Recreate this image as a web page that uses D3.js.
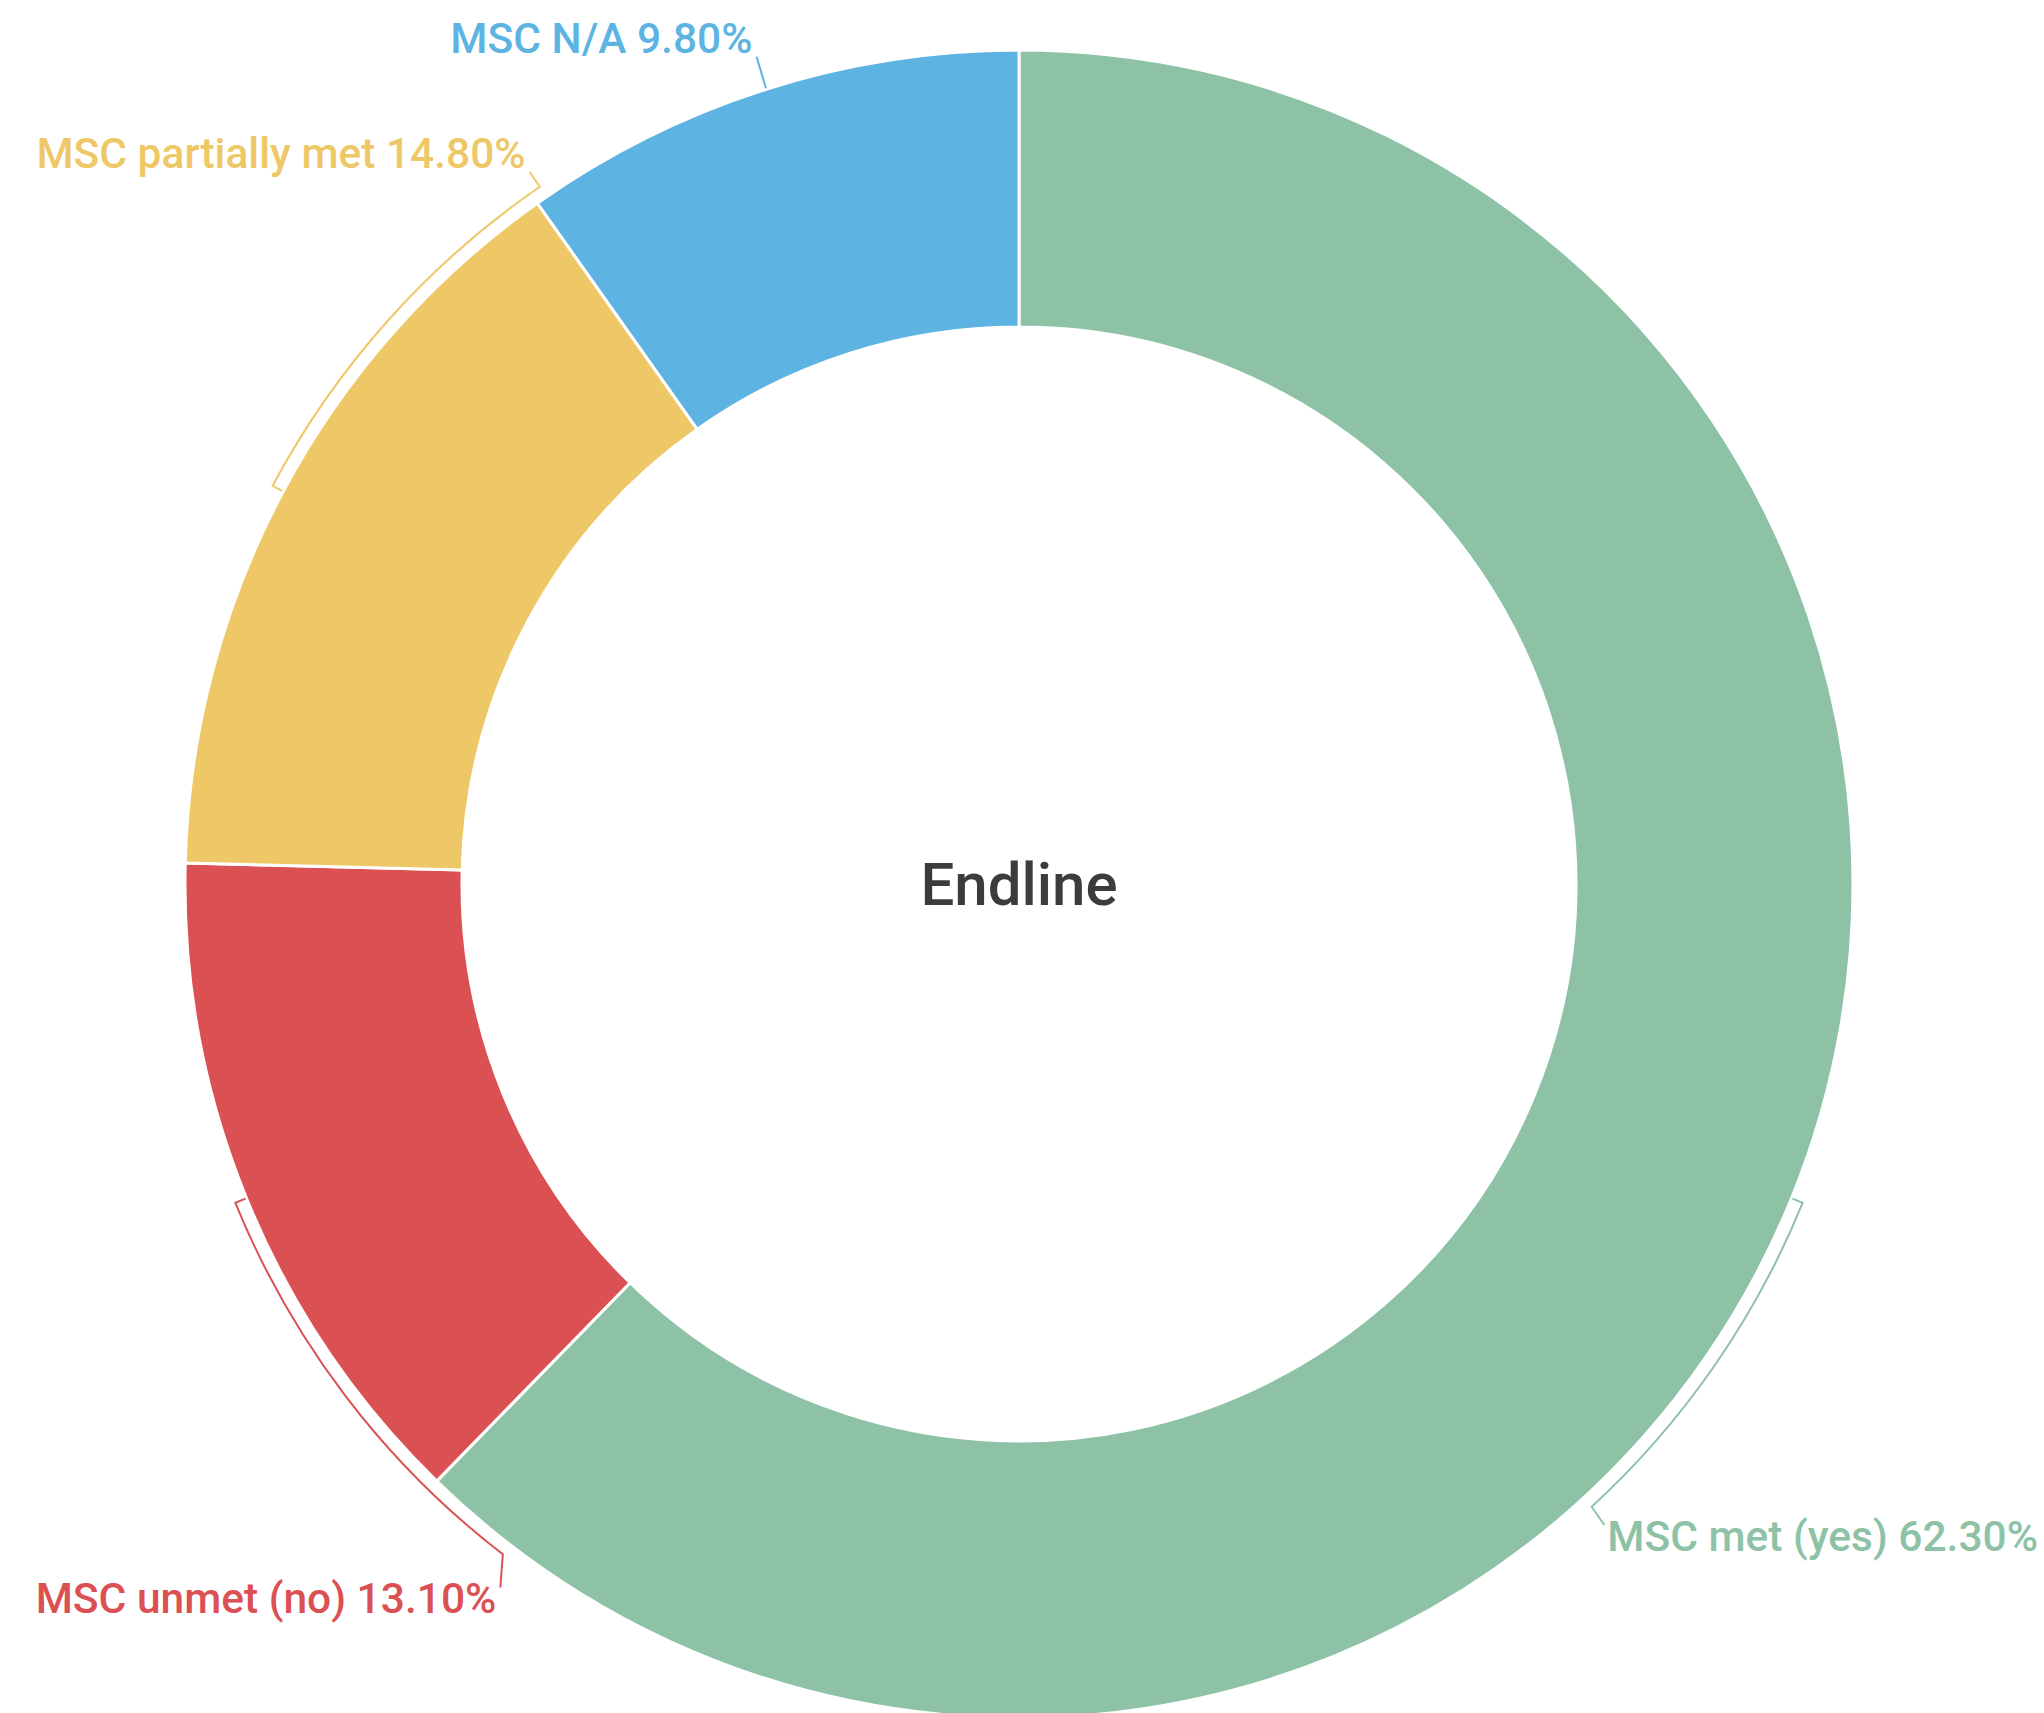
<!DOCTYPE html>
<html>
<head>
<meta charset="utf-8">
<script src="https://cdn.jsdelivr.net/npm/d3@7/dist/d3.min.js"></script>
<style>
  html, body { margin: 0; padding: 0; background: #ffffff; }
  svg { display: block; }
</style>
</head>
<body>
<svg id="chart" width="2044" height="1713"></svg>
<script>
// ---- data ----
const categories = ["MSC met (yes)", "MSC unmet (no)", "MSC partially met", "MSC N/A"];
const values = [62.3, 13.1, 14.8, 9.8];
const valueLabels = ["62.30%", "13.10%", "14.80%", "9.80%"];
const sliceColors = ["#8dc2a6", "#db5153", "#eec867", "#5db4e3"];
const centerTitle = "Endline";

// ---- label layout (where each leader bracket ends, degrees clockwise from 12 o'clock) ----
const bracketEndDeg = [137.4, 217.6, 325.5, null]; // null -> straight radial tick
const anchorDeg = [137.6, 216.4, 325.5, 342.4];
const anchorRadius = [868, 874, 864, 868];

// ---- geometry ----
const W = 2044, H = 1713;
const cx = 1019, cy = 884;
const outerR = 834, innerR = 557;
const bracketR = outerR + 12;

const svg = d3.select("#chart");
const g = svg.append("g");

const data = categories.map((c, i) => ({ name: c, value: values[i], label: valueLabels[i], color: sliceColors[i], i }));

const pie = d3.pie().sort(null).value(d => d.value).startAngle(0).endAngle(2 * Math.PI);
const arcs = pie(data);
const arcGen = d3.arc().innerRadius(innerR).outerRadius(outerR);

g.selectAll("path.slice")
  .data(arcs)
  .join("path")
  .attr("class", "slice")
  .attr("transform", `translate(${cx},${cy})`)
  .attr("d", arcGen)
  .attr("fill", d => d.data.color)
  .attr("stroke", "#ffffff")
  .attr("stroke-width", 3)
  .attr("stroke-linejoin", "round");

const pt = (a, r) => [cx + r * Math.sin(a), cy - r * Math.cos(a)];
const rad = d => d * Math.PI / 180;

// leader brackets
arcs.forEach(a => {
  const i = a.data.i;
  const mid = (a.startAngle + a.endAngle) / 2;
  const p = d3.path();
  const p0 = pt(mid, outerR + 1);
  p.moveTo(p0[0], p0[1]);
  if (bracketEndDeg[i] !== null) {
    const p1 = pt(mid, bracketR);
    p.lineTo(p1[0], p1[1]);
    const e = rad(bracketEndDeg[i]);
    p.arc(cx, cy, bracketR, mid - Math.PI / 2, e - Math.PI / 2, e < mid);
  }
  const endPt = pt(rad(anchorDeg[i]), anchorRadius[i]);
  p.lineTo(endPt[0], endPt[1]);
  g.append("path")
    .attr("d", p.toString())
    .attr("fill", "none")
    .attr("stroke", a.data.color)
    .attr("stroke-width", 2)
    .attr("stroke-linejoin", "miter");

  const aa = rad(anchorDeg[i]);
  const right = Math.sin(aa) > 0;
  const bottom = Math.cos(aa) < 0;
  const tx = endPt[0] + (right ? 3 : -4);
  const ty = bottom ? endPt[1] + 26 : endPt[1] - 4;
  g.append("text")
    .attr("x", tx)
    .attr("y", ty)
    .attr("text-anchor", right ? "start" : "end")
    .attr("font-family", "Roboto, 'Noto Sans', sans-serif")
    .attr("font-weight", 500)
    .attr("font-size", 42.5)
    .attr("fill", a.data.color)
    .text(`${a.data.name} ${a.data.label}`);
});

// center title
g.append("text")
  .attr("x", cx)
  .attr("y", cy + 21)
  .attr("text-anchor", "middle")
  .attr("font-family", "Roboto, 'Noto Sans', sans-serif")
  .attr("font-weight", 500)
  .attr("font-size", 60)
  .attr("fill", "#3c3c3c")
  .text(centerTitle);
</script>
</body>
</html>
